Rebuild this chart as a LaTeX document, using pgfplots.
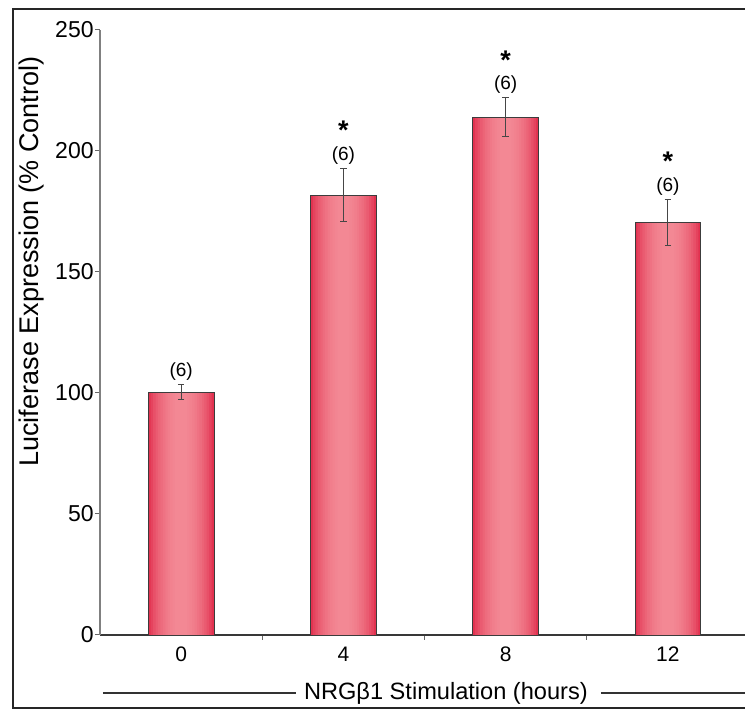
\documentclass[border=0pt]{standalone}
\usepackage{pgfplots}
\pgfplotsset{compat=1.18}
\usepackage{pgfplotstable}
\usepackage{fontspec}
\setmainfont{Liberation Sans}
\usetikzlibrary{calc}
\definecolor{barEdge}{RGB}{226,50,80}
\definecolor{barMid}{RGB}{243,136,148}
\definecolor{barLine}{RGB}{60,60,60}
\definecolor{errCol}{RGB}{70,70,70}
\pgfplotstableread{
x v e
0 100.4 3
1 181.8 11
2 214 8
3 170.5 9.5
}\datatable
\pgfplotsset{layer/.style={ybar, bar shift=0pt, draw=none, forget plot}}
\begin{document}
\begin{tikzpicture}
\begin{axis}[
  scale only axis,
  width=324.5pt, height=302.5pt,
  xmin=-0.5, xmax=3.5, ymin=0, ymax=250,
  clip=false,
  axis lines*=left,
  axis line style={-},
  x axis line style={draw=black!78, line width=0.7pt},
  y axis line style={draw=black!50, line width=0.7pt},
  tick align=outside,
  major tick length=2.5pt,
  tick style={black!60, line width=0.5pt},
  ytick={0,50,100,150,200,250},
  xtick={0.5,1.5,2.5},
  xticklabels={},
  extra x ticks={0,1,2,3},
  extra x tick labels={0,4,8,12},
  extra x tick style={tick style={draw=none}},
  /pgf/number format/assume math mode=true,
  xticklabel style={font=\fontsize{10.5}{12}\selectfont},
  yticklabel style={font=\fontsize{11.5}{13}\selectfont, inner xsep=0.5pt},
  ylabel={Luciferase Expression (\% Control)},
  ylabel style={at={(axis description cs:-0.1048,0.617)}, anchor=center, rotate=0, font=\fontsize{13.5}{15}\selectfont},
  xlabel={NRGβ1 Stimulation (hours)},
  xlabel style={at={(axis description cs:0.533,0)}, anchor=center, yshift=-29pt, font=\fontsize{11.8}{14}\selectfont, name=xlab},
]
\addplot[layer, bar width=0.405, fill=barEdge] table[x=x, y=v] {\datatable};
\addplot[layer, bar width=0.375, fill=barMid!20!barEdge] table[x=x, y=v] {\datatable};
\addplot[layer, bar width=0.345, fill=barMid!35!barEdge] table[x=x, y=v] {\datatable};
\addplot[layer, bar width=0.315, fill=barMid!48!barEdge] table[x=x, y=v] {\datatable};
\addplot[layer, bar width=0.285, fill=barMid!58!barEdge] table[x=x, y=v] {\datatable};
\addplot[layer, bar width=0.255, fill=barMid!67!barEdge] table[x=x, y=v] {\datatable};
\addplot[layer, bar width=0.225, fill=barMid!75!barEdge] table[x=x, y=v] {\datatable};
\addplot[layer, bar width=0.195, fill=barMid!82!barEdge] table[x=x, y=v] {\datatable};
\addplot[layer, bar width=0.165, fill=barMid!88!barEdge] table[x=x, y=v] {\datatable};
\addplot[layer, bar width=0.135, fill=barMid!93!barEdge] table[x=x, y=v] {\datatable};
\addplot[layer, bar width=0.105, fill=barMid!97!barEdge] table[x=x, y=v] {\datatable};
\addplot[layer, bar width=0.075, fill=barMid] table[x=x, y=v] {\datatable};
\addplot[ybar, bar width=0.405, bar shift=0pt, draw=barLine, fill=none, line width=0.4pt,
  error bars/.cd, y dir=both, y explicit,
  error bar style={errCol, line width=0.6pt},
  error mark options={errCol, line width=0.6pt, mark size=1.6pt, rotate=90}]
  table[x=x, y=v, y error=e] {\datatable};
\addplot[draw=none, nodes near coords={(6)},
  every node near coord/.style={anchor=center, inner sep=0pt, yshift=6.5pt, font=\fontsize{9.5}{11}\selectfont, text=black}]
  table[x=x, y expr=\thisrow{v}+\thisrow{e}] {\datatable};
\addplot[draw=none, restrict expr to domain={\coordindex}{1:3}, nodes near coords={*},
  every node near coord/.style={anchor=center, inner sep=0pt, yshift=19pt, font=\fontsize{13.5}{15}\selectfont\bfseries, text=black}]
  table[x=x, y expr=\thisrow{v}+\thisrow{e}] {\datatable};
\end{axis}
\draw[black!80, line width=0.6pt] ($(current axis.south west |- xlab.west)+(1.5pt,0)$) -- ($(xlab.west)+(-0.5pt,0)$);
\draw[black!80, line width=0.6pt] ($(xlab.east)+(3pt,0)$) -- ($(current axis.south east |- xlab.east)+(5pt,0)$);
\draw[line width=1.2pt, black!85] ($(current axis.north east)+(5pt,10.5pt)$) -- ($(current axis.north west)+(-43.5pt,10.5pt)$) -- ($(current axis.south west)+(-43.5pt,-36.5pt)$) -- ($(current axis.south east)+(5pt,-36.5pt)$);
\pgfresetboundingbox
\useasboundingbox ($(current axis.south west)+(-50pt,-39.5pt)$) rectangle ($(current axis.north west)+(322.5pt,15pt)$);
\end{tikzpicture}
\end{document}
